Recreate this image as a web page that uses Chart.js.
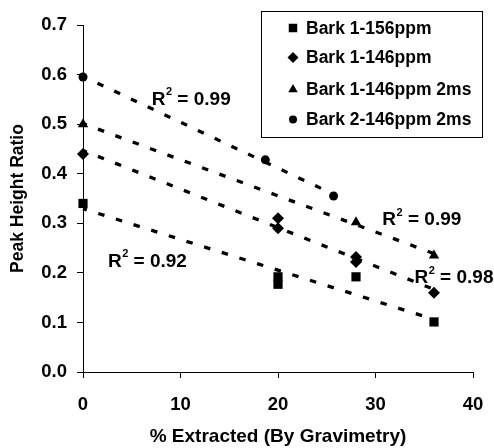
<!DOCTYPE html>
<html>
<head>
<meta charset="utf-8">
<script src="https://cdn.jsdelivr.net/npm/chart.js@4.4.1/dist/chart.umd.min.js"></script>
<style>
    html, body { margin: 0; padding: 0; background: #fff; }
    #wrap { width: 494px; height: 448px; }
</style>
</head>
<body>
<div id="wrap"><canvas id="chart" width="494" height="448"></canvas></div>
<script>
// ── Data ─────────────────────────────────────────────────────────────────────
const seriesNames = ['Bark 1-156ppm', 'Bark 1-146ppm', 'Bark 1-146ppm 2ms', 'Bark 2-146ppm 2ms'];
const pointStyles = ['rect', 'rectRot', 'triangle', 'circle'];
const pointRadii  = [6.5, 6, 6, 4.5];

const bark1_156_x = [0, 20, 20, 28, 36];
const bark1_156_y = [0.34, 0.192, 0.177, 0.192, 0.101];

const bark1_146_x = [0, 20, 20, 28, 28, 36];
const bark1_146_y = [0.44, 0.31, 0.29, 0.232, 0.222, 0.16];

const bark1_146_2ms_x = [0, 28, 36];
const bark1_146_2ms_y = [0.50, 0.302, 0.235];

const bark2_146_2ms_x = [0, 18.7, 25.7];
const bark2_146_2ms_y = [0.595, 0.428, 0.355];

const xTickStep = 10;
const yTickStep = 0.1;

// R² annotations: text value and anchor (data units, left/baseline)
const r2Values = ['0.92', '0.98', '0.99', '0.99'];
const r2AnchorX = [2.56, 34.0, 30.7, 7.05];
const r2AnchorY = [0.212, 0.1786, 0.296, 0.539];

const FONT = '"Liberation Sans", Arial, Helvetica, sans-serif';

// ── Helpers ──────────────────────────────────────────────────────────────────
function toPoints(xs, ys) {
    return xs.map((x, i) => ({ x, y: ys[i] }));
}

// least-squares trendline, drawn from x=0 to the last x (like the original)
function trendLine(xs, ys) {
    const n = xs.length;
    const mx = xs.reduce((a, b) => a + b, 0) / n;
    const my = ys.reduce((a, b) => a + b, 0) / n;
    let sxy = 0, sxx = 0;
    xs.forEach((x, i) => { sxy += (x - mx) * (ys[i] - my); sxx += (x - mx) * (x - mx); });
    const m = sxy / sxx;
    const b = my - m * mx;
    const xEnd = Math.max(...xs);
    return [{ x: 0, y: b }, { x: xEnd, y: b + m * xEnd }];
}

const allX = [bark1_156_x, bark1_146_x, bark1_146_2ms_x, bark2_146_2ms_x];
const allY = [bark1_156_y, bark1_146_y, bark1_146_2ms_y, bark2_146_2ms_y];

const datasets = [];
allX.forEach((xs, i) => {
    datasets.push({
        type: 'scatter',
        label: seriesNames[i],
        data: toPoints(xs, allY[i]),
        pointStyle: pointStyles[i],
        pointRadius: pointRadii[i],
        pointBackgroundColor: '#000',
        pointBorderColor: '#000',
        pointBorderWidth: 0,
        clip: false,
        order: 1
    });
});
allX.forEach((xs, i) => {
    datasets.push({
        type: 'line',
        label: 'trend-' + i,
        data: trendLine(xs, allY[i]),
        borderColor: '#000',
        borderWidth: 3.3,
        borderDash: [6.5, 12],
        borderDashOffset: 2.5,
        pointRadius: 0,
        fill: false,
        clip: false,
        order: 2
    });
});

// ── Custom legend + R² labels ────────────────────────────────────────────────
const overlayPlugin = {
    id: 'overlay',
    afterDraw(chart) {
        const { ctx, scales } = chart;
        ctx.save();

        // legend box
        ctx.strokeStyle = '#000';
        ctx.lineWidth = 1;
        ctx.strokeRect(261.5, 11.5, 221, 126);
        ctx.fillStyle = '#000';
        ctx.font = `bold 17.5px ${FONT}`;
        ctx.textBaseline = 'middle';
        ctx.textAlign = 'left';
        const rowY = [28, 57.5, 89.5, 119.5];
        seriesNames.forEach((name, i) => {
            const opts = { pointStyle: pointStyles[i], radius: pointRadii[i] - 0.5, rotation: 0, borderWidth: 0 };
            if (Chart.helpers && Chart.helpers.drawPoint) {
                ctx.fillStyle = '#000';
                Chart.helpers.drawPoint(ctx, opts, 293, rowY[i]);
            }
            ctx.fillStyle = '#000';
            ctx.fillText(name, 306, rowY[i] + 1);
        });

        // R² = ... annotations
        ctx.textBaseline = 'alphabetic';
        r2Values.forEach((val, i) => {
            let x = scales.x.getPixelForValue(r2AnchorX[i]);
            const y = scales.y.getPixelForValue(r2AnchorY[i]);
            ctx.font = `bold 19px ${FONT}`;
            ctx.fillText('R', x, y);
            x += ctx.measureText('R').width;
            ctx.font = `bold 11px ${FONT}`;
            ctx.fillText('2', x + 0.5, y - 9.5);
            x += ctx.measureText('2').width + 0.5;
            ctx.font = `bold 19px ${FONT}`;
            ctx.fillText(' = ' + val, x, y);
        });
        ctx.restore();
    }
};

// ── Chart ────────────────────────────────────────────────────────────────────
const tickFont = { family: FONT, size: 18.5, weight: 'bold' };

new Chart(document.getElementById('chart'), {
    data: { datasets },
    options: {
        responsive: false,
        animation: false,
        devicePixelRatio: 1,
        layout: { autoPadding: false, padding: { top: 25, right: 21, left: 0, bottom: 0 } },
        plugins: {
            legend: { display: false },
            tooltip: { enabled: false }
        },
        scales: {
            x: {
                type: 'linear',
                min: 0,
                max: 40,
                ticks: { stepSize: xTickStep, color: '#000', font: tickFont, padding: 16, maxRotation: 0 },
                grid: { drawOnChartArea: false, drawTicks: true, tickLength: 6, color: '#000', lineWidth: 1 },
                border: { color: '#000', width: 1 },
                title: {
                    display: true,
                    text: '% Extracted (By Gravimetry)',
                    color: '#000',
                    font: { family: FONT, size: 19, weight: 'bold' },
                    padding: { top: 0, bottom: 0 }
                },
                afterFit(scale) {
                    scale.height = 76;
                    // tick padding is vertical here; don't let it widen the side margins
                    scale.paddingLeft = 12;
                    scale.paddingRight = 12;
                }
            },
            y: {
                type: 'linear',
                min: 0,
                max: 0.7,
                ticks: {
                    stepSize: yTickStep,
                    color: '#000',
                    font: tickFont,
                    padding: 10,
                    callback: (v) => v.toFixed(1)
                },
                grid: { drawOnChartArea: false, drawTicks: true, tickLength: 6, color: '#000', lineWidth: 1 },
                border: { color: '#000', width: 1 },
                title: {
                    display: true,
                    text: 'Peak Height Ratio',
                    color: '#000',
                    font: { family: FONT, size: 17.5, weight: 'bold' },
                    padding: { top: 8, bottom: 0 }
                },
                afterFit(scale) { scale.width = 83; }
            }
        }
    },
    plugins: [overlayPlugin]
});
</script>
</body>
</html>
